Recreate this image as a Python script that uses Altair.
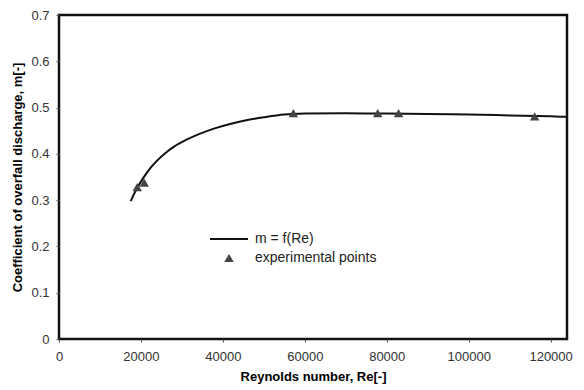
import altair as alt
import pandas as pd

# Fitted curve m = f(Re)
re_curve = [17500, 19000, 20500, 22000, 24000, 26000, 28000, 31000, 34000, 38000, 42000,
            46000, 50000, 55000, 60000, 70000, 80000, 90000, 100000, 110000, 120000, 124000]
m_curve = [0.298, 0.325, 0.347, 0.366, 0.386, 0.402, 0.415, 0.430, 0.442, 0.455, 0.465,
           0.473, 0.479, 0.485, 0.487, 0.488, 0.487, 0.486, 0.485, 0.483, 0.481, 0.480]

# Experimental points
re_exp = [19100, 20800, 57200, 77800, 82900, 116100]
m_exp = [0.328, 0.338, 0.488, 0.488, 0.488, 0.481]

x_ticks = [0, 20000, 40000, 60000, 80000, 100000, 120000]
y_ticks = [0, 0.1, 0.2, 0.3, 0.4, 0.5, 0.6, 0.7]

legend_labels = ["m = f(Re)", "experimental points"]

curve_df = pd.DataFrame({"Re": re_curve, "m": m_curve})
exp_df = pd.DataFrame({"Re": re_exp, "m": m_exp})

FONT = "Liberation Sans"

x_scale = alt.Scale(domain=[0, 124000], nice=False)
y_scale = alt.Scale(domain=[0, 0.7], nice=False)

x_axis = alt.Axis(values=x_ticks, format="d", title="Reynolds number, Re[-]", grid=False,
                  domain=False, tickSize=3, tickColor="#555", labelPadding=8,
                  labelFontSize=13, labelColor="#333", labelFont=FONT,
                  titleFont=FONT, titleFontSize=13, titleFontWeight="bold",
                  titleColor="#000", titlePadding=7, labelFlush=False)
y_axis = alt.Axis(values=y_ticks, format="~g", title="Coefficient of overfall discharge, m[-]",
                  grid=False, domain=False, tickSize=3, tickColor="#555", labelPadding=7,
                  labelFontSize=13, labelColor="#333", labelFont=FONT,
                  titleFont=FONT, titleFontSize=13, titleFontWeight="bold",
                  titleColor="#000", titlePadding=6, labelFlush=False)

line = alt.Chart(curve_df).mark_line(color="#111", strokeWidth=2, interpolate="monotone").encode(
    x=alt.X("Re:Q", scale=x_scale, axis=x_axis),
    y=alt.Y("m:Q", scale=y_scale, axis=y_axis),
)

pts = alt.Chart(exp_df).mark_point(shape="triangle-up", filled=True, color="#444",
                                   size=90, opacity=1).encode(
    x=alt.X("Re:Q", scale=x_scale),
    y=alt.Y("m:Q", scale=y_scale),
)

# Legend (drawn inside plot)
leg_line = alt.Chart(pd.DataFrame({"a": [0]})).mark_rule(color="#111", strokeWidth=2).encode(
    x=alt.value(151), x2=alt.value(189), y=alt.value(224))
leg_pt = alt.Chart(pd.DataFrame({"a": [0]})).mark_point(
    shape="triangle-up", filled=True, color="#444", size=90, opacity=1).encode(
    x=alt.value(170), y=alt.value(243))
leg_text = alt.Chart(pd.DataFrame({"label": legend_labels, "yy": [224, 243]})).mark_text(
    align="left", baseline="middle", font=FONT, fontSize=14, color="#222").encode(
    x=alt.value(196), y=alt.Y("yy:Q", scale=None), text="label:N")

chart = alt.layer(line, pts, leg_line, leg_pt, leg_text).properties(
    width=508, height=324,
    autosize=alt.AutoSizeParams(type="none"),
    padding={"left": 51, "top": 7, "right": 9, "bottom": 51},
    background="white",
).configure_view(stroke="#111", strokeWidth=2.5)

chart.save("out.html", embed_options={"renderer": "svg", "actions": False})
